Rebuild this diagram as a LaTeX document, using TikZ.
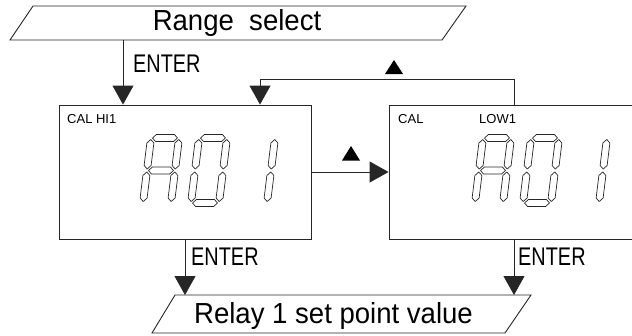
\documentclass[tikz,border=0pt]{standalone}
\usepackage{fontspec}
\setmainfont{Liberation Sans}
\newfontfamily\condf{Liberation Sans}[FakeStretch=0.78]
\newfontfamily\bigf{Liberation Sans}[FakeStretch=0.95]
\usetikzlibrary{arrows.meta}
\tikzset{
  ln/.style={draw=black!85, line width=0.9bp},
  arr/.style={ln, -{Triangle[length=19bp,width=21bp]}},
  segst/.style={draw=black!85, line width=0.7bp, line join=round},
  bigtxt/.style={inner sep=0pt, font=\bigf\fontsize{29bp}{32bp}\selectfont},
  entertxt/.style={inner sep=0pt, anchor=base west, font=\condf\fontsize{25.5bp}{28bp}\selectfont},
  smalltxt/.style={inner sep=0pt, anchor=base west, font=\fontsize{13bp}{15bp}\selectfont},
  boxst/.style={ln, rectangle, inner sep=0pt},
  keytri/.style={fill=black}
}
\newcommand\hseg[3]{\draw[segst] ({#1+1.5},#3) -- ({#1+5},{#3-3.5}) -- ({#2-5},{#3-3.5}) -- ({#2-1.5},#3) -- ({#2-5},{#3+3.5}) -- ({#1+5},{#3+3.5}) -- cycle;}
\newcommand\vseg[3]{\draw[segst] (#1,{#2+1.5}) -- ({#1+3.5},{#2+5}) -- ({#1+3.5},{#3-5}) -- (#1,{#3-1.5}) -- ({#1-3.5},{#3-5}) -- ({#1-3.5},{#2+5}) -- cycle;}
\newcommand\digitA[2]{\begin{scope}[shift={(#1,#2)},xslant=0.123]
  \hseg{0}{28}{-65}\vseg{28}{-65}{-32.5}\vseg{28}{-32.5}{0}\vseg{0}{-32.5}{0}\vseg{0}{-65}{-32.5}\hseg{0}{28}{-32.5}\end{scope}}
\newcommand\digitZero[2]{\begin{scope}[shift={(#1,#2)},xslant=0.123]
  \hseg{0}{28}{-65}\vseg{28}{-65}{-32.5}\vseg{28}{-32.5}{0}\hseg{0}{28}{0}\vseg{0}{-32.5}{0}\vseg{0}{-65}{-32.5}\end{scope}}
\newcommand\digitOne[2]{\begin{scope}[shift={(#1,#2)},xslant=0.123]
  \vseg{28}{-65}{-32.5}\vseg{28}{-32.5}{0}\end{scope}}
\begin{document}
\begin{tikzpicture}[x=1bp,y=-1bp]
\useasboundingbox (0,0) rectangle (632,335);
\clip (0,0) rectangle (632,335);
% top parallelogram
\draw[ln] (33,6) -- (466,6) -- (442,40) -- (10,40) -- cycle;
\node[bigtxt, anchor=base] (rs) at (237,30) {Range\ \ select};
% bottom parallelogram
\draw[ln] (175,295) -- (531,295) -- (505,333) -- (152,333) -- cycle;
\node[bigtxt, anchor=base] (rp) at (333.5,323) {Relay 1 set point value};
\coordinate (ptop) at (333,295);
% boxes
\node[boxst, draw, minimum width=252bp, minimum height=134bp] (lb) at (185,172) {};
\node[boxst, draw, minimum width=250bp, minimum height=134bp] (rb) at (514,172) {};
% labels in boxes
\node[smalltxt] (l1) at (67,123) {CAL HI1};
\node[smalltxt] (l2) at (398,123) {CAL};
\node[smalltxt] (l3) at (479,123) {LOW1};
% digits
\digitA{143}{203}\digitZero{191}{203}\digitOne{239}{203}
\digitA{475}{203}\digitZero{523}{203}\digitOne{571}{203}
% connectors
\coordinate (t1) at (123,40);
\draw[arr] (t1) -- (t1 |- lb.north);
\node[entertxt] (e1) at (133,72) {ENTER};
\coordinate (fbL) at (260,79);
\coordinate (fbR) at (514,79);
\draw[ln] (rb.north) -- (fbR) -- (fbL);
\draw[arr] (fbL) -- (fbL |- lb.north);
\fill[keytri] (385,74) -- (403,74) -- (394,60) -- cycle;
\draw[arr] (lb.east) -- (rb.west);
\fill[keytri] (342,160.5) -- (360,160.5) -- (351,146) -- cycle;
\draw[arr] (lb.south) -- (lb.south |- ptop);
\node[entertxt] (e2) at (191,265) {ENTER};
\draw[arr] (rb.south) -- (rb.south |- ptop);
\node[entertxt] (e3) at (518,265) {ENTER};
\end{tikzpicture}
\end{document}
